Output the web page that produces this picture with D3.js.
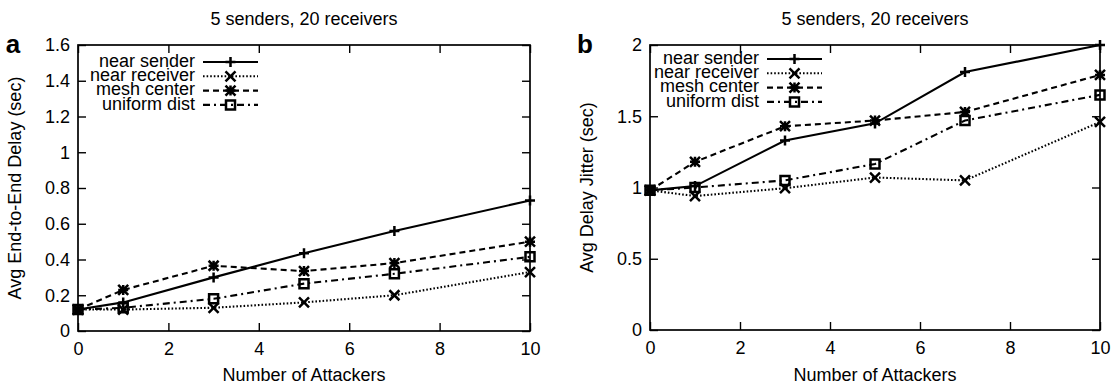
<!DOCTYPE html>
<html>
<head>
<meta charset="utf-8">
<script src="https://cdn.jsdelivr.net/npm/d3@7"></script>
<style>
  html, body { margin: 0; padding: 0; background: #fff; }
  svg { display: block; }
  text { font-family: "Liberation Sans", Arial, Helvetica, sans-serif; fill: #000; }
</style>
</head>
<body>
<svg id="chart" width="1116" height="387"></svg>
<script>
// ---- data ----
const xValues = [0, 1, 3, 5, 7, 10];
const seriesNames = ["near sender", "near receiver", "mesh center", "uniform dist"];

const delaySender   = [0.12, 0.16, 0.30, 0.435, 0.56, 0.73];
const delayReceiver = [0.12, 0.12, 0.13, 0.16, 0.20, 0.33];
const delayMesh     = [0.12, 0.23, 0.365, 0.335, 0.38, 0.50];
const delayUniform  = [0.12, 0.13, 0.18, 0.265, 0.32, 0.415];

const jitterSender   = [0.98, 1.01, 1.33, 1.45, 1.81, 2.0];
const jitterReceiver = [0.98, 0.94, 0.995, 1.07, 1.05, 1.46];
const jitterMesh     = [0.98, 1.18, 1.43, 1.47, 1.53, 1.79];
const jitterUniform  = [0.98, 1.0, 1.05, 1.165, 1.47, 1.65];

const xTicks = [0, 2, 4, 6, 8, 10];
const delayTicks = [0, 0.2, 0.4, 0.6, 0.8, 1.0, 1.2, 1.4, 1.6];
const jitterTicks = [0, 0.5, 1, 1.5, 2];

const titleText = "5 senders, 20 receivers";
const xLabel = "Number of Attackers";

// ---- styles ----
const dashes = [null, "1.6,2", "6,4", "7,4,2,4"];
const markerTypes = ["plus", "cross", "star", "square"];

const svg = d3.select("#chart");
const FONT = 18;

function markerPath(type, s) {
  const h = s / 2;
  if (type === "plus") return `M${-h},0H${h}M0,${-h}V${h}`;
  if (type === "cross") return `M${-h},${-h}L${h},${h}M${-h},${h}L${h},${-h}`;
  if (type === "star") return `M${-h},0H${h}M0,${-h}V${h}M${-h},${-h}L${h},${h}M${-h},${h}L${h},${-h}`;
  return `M${-h},${-h}H${h}V${h}H${-h}Z`;
}

function panel(opts) {
  const { left, right, top, bottom, yDomain, yTicks, series, yLabel, letter, legendTextX, legendY0 } = opts;
  const g = svg.append("g");
  const x = d3.scaleLinear().domain([0, 10]).range([left, right]);
  const y = d3.scaleLinear().domain(yDomain).range([bottom, top]);
  const fmt = v => String(+v.toFixed(1));
  const tickLen = 8;

  const axB = g.append("g").attr("transform", `translate(0,${bottom})`)
    .call(d3.axisBottom(x).tickValues(xTicks).tickSizeInner(-tickLen).tickSizeOuter(0).tickPadding(11).tickFormat(fmt));
  const axT = g.append("g").attr("transform", `translate(0,${top})`)
    .call(d3.axisTop(x).tickValues(xTicks).tickSizeInner(-tickLen).tickSizeOuter(0).tickFormat(""));
  const axL = g.append("g").attr("transform", `translate(${left},0)`)
    .call(d3.axisLeft(y).tickValues(yTicks).tickSizeInner(-tickLen).tickSizeOuter(0).tickPadding(8).tickFormat(fmt));
  const axR = g.append("g").attr("transform", `translate(${right},0)`)
    .call(d3.axisRight(y).tickValues(yTicks).tickSizeInner(-tickLen).tickSizeOuter(0).tickFormat(""));
  [axB, axT, axL, axR].forEach(a => {
    a.select(".domain").remove();
    a.selectAll(".tick line").attr("stroke", "#000").attr("stroke-width", 1.4);
    a.selectAll(".tick text").attr("font-size", FONT).attr("font-family", "Liberation Sans, Arial, sans-serif").attr("fill", "#000");
  });
  axB.selectAll(".tick text").attr("dy", "0.71em");

  g.append("rect").attr("x", left).attr("y", top).attr("width", right - left).attr("height", bottom - top)
    .attr("fill", "none").attr("stroke", "#000").attr("stroke-width", 1.7);

  g.append("text").attr("x", (left + right) / 2).attr("y", 20).attr("text-anchor", "middle")
    .attr("dominant-baseline", "middle").attr("font-size", FONT).text(titleText);
  g.append("text").attr("x", (left + right) / 2).attr("y", 376).attr("text-anchor", "middle")
    .attr("dominant-baseline", "middle").attr("font-size", FONT).text(xLabel);
  g.append("text").attr("transform", `translate(${left - 62},${(top + bottom) / 2}) rotate(-90)`)
    .attr("text-anchor", "middle").attr("dominant-baseline", "middle").attr("font-size", FONT).text(yLabel);
  g.append("text").attr("x", left - 65).attr("y", top + 1).attr("text-anchor", "middle")
    .attr("dominant-baseline", "middle").attr("font-size", 26).attr("font-weight", "bold").text(letter);

  const line = d3.line().x((d, i) => x(xValues[i])).y(d => y(d));

  series.forEach((vals, si) => {
    g.append("path").datum(vals).attr("d", line).attr("fill", "none")
      .attr("stroke", "#000").attr("stroke-width", 2.1)
      .attr("stroke-dasharray", dashes[si]);
  });
  series.forEach((vals, si) => {
    g.selectAll(null).data(vals).enter().append("path")
      .attr("transform", (d, i) => `translate(${x(xValues[i])},${y(d)})`)
      .attr("d", markerPath(markerTypes[si], markerTypes[si] === "square" ? 9 : 10))
      .attr("fill", "none").attr("stroke", "#000").attr("stroke-width", 2.5);
  });

  seriesNames.forEach((name, si) => {
    const ly = legendY0 + si * 14.3;
    g.append("text").attr("x", legendTextX).attr("y", ly).attr("text-anchor", "end")
      .attr("dominant-baseline", "middle").attr("font-size", FONT).text(name);
    const x0 = legendTextX + 8, x1 = legendTextX + 63;
    g.append("line").attr("x1", x0).attr("x2", x1).attr("y1", ly).attr("y2", ly)
      .attr("stroke", "#000").attr("stroke-width", 2.1).attr("stroke-dasharray", dashes[si]);
    g.append("path").attr("transform", `translate(${(x0 + x1) / 2},${ly})`)
      .attr("d", markerPath(markerTypes[si], markerTypes[si] === "square" ? 9 : 10))
      .attr("fill", "none").attr("stroke", "#000").attr("stroke-width", 2.5);
  });
}

panel({
  left: 78, right: 530, top: 45, bottom: 331,
  yDomain: [0, 1.6], yTicks: delayTicks,
  series: [delaySender, delayReceiver, delayMesh, delayUniform],
  yLabel: "Avg End-to-End Delay (sec)", letter: "a",
  legendTextX: 195, legendY0: 62
});
panel({
  left: 650, right: 1100, top: 45, bottom: 330,
  yDomain: [0, 2], yTicks: jitterTicks,
  series: [jitterSender, jitterReceiver, jitterMesh, jitterUniform],
  yLabel: "Avg Delay Jitter (sec)", letter: "b",
  legendTextX: 759, legendY0: 59
});
</script>
</body>
</html>
